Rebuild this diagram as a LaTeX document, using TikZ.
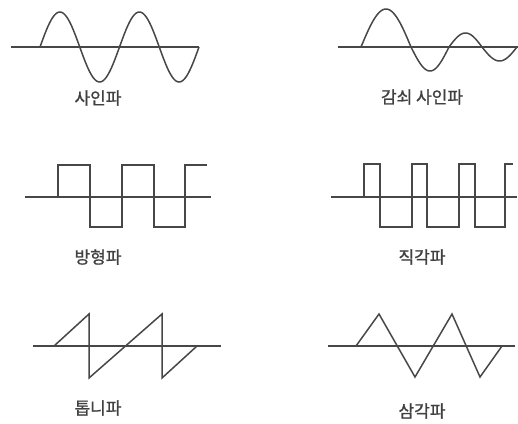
\documentclass[tikz,border=0pt]{standalone}
\usepackage{fontspec}
\setmainfont{Noto Sans CJK KR}[BoldFont=Noto Sans CJK KR, BoldFeatures={FakeBold=1.0}]
\begin{document}
\begin{tikzpicture}[x=1pt,y=-1pt,
  wave/.style={draw=black!72, line width=1.5pt, line join=miter},
  axisline/.style={draw=black!72, line width=1.5pt},
  lbl/.style={text=black!75, font=\fontsize{17}{17}\selectfont\bfseries, inner sep=0pt}]
\useasboundingbox[fill=white] (0,0) rectangle (518,423);
% sine
\draw[axisline] (11,47) -- (199,47);
\draw[wave] plot[domain=40:199, samples=120] (\x, {47-35*sin(4.5283*(\x-40))});
\node[lbl] (l1) at (98,98) {사인파};
% damped sine
\draw[axisline] (338,47) -- (518,47);
\draw[wave] plot[domain=361:411, samples=40] (\x, {47-38*sin(3.6*(\x-361))})
  -- plot[domain=411:449, samples=40] (\x, {47+24*sin(4.7368*(\x-411))})
  -- plot[domain=449:482, samples=40] (\x, {47-14*sin(5.4545*(\x-449))})
  -- plot[domain=482:517, samples=40] (\x, {47+14*sin(5.1429*(\x-482))});
\node[lbl] (l2) at (422,97) {감쇠 사인파};
% square
\draw[axisline] (25,197) -- (211,197);
\draw[wave] (58,197) -- (58,165) -- (90,165) -- (90,227) -- (122,227) -- (122,165) -- (154,165) -- (154,227) -- (185,227) -- (185,165) -- (207,165);
\node[lbl] (l3) at (98,257) {방형파};
% rectangular
\draw[axisline] (331,197) -- (517,197);
\draw[wave] (364,197) -- (364,164) -- (380,164) -- (380,227) -- (412,227) -- (412,164) -- (427,164) -- (427,227) -- (459,227) -- (459,164) -- (475,164) -- (475,227) -- (505,227) -- (505,164) -- (513,164);
\node[lbl] (l4) at (422,257) {직각파};
% sawtooth
\draw[axisline] (33,346) -- (221,346);
\draw[wave] (54,346) -- (89,314) -- (89,378) -- (162,314) -- (162,378) -- (197,346);
\node[lbl] (l5) at (98,408) {톱니파};
% triangle
\draw[axisline] (328,346) -- (515,346);
\draw[wave] (356,346) -- (379,314) -- (415,377) -- (452,314) -- (480,377) -- (502,346);
\node[lbl] (l6) at (422,411) {삼각파};
\end{tikzpicture}
\end{document}
